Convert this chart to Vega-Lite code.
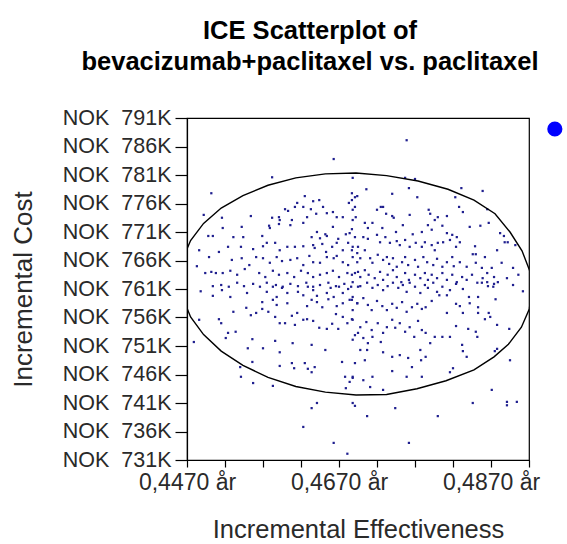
{
"$schema": "https://vega.github.io/schema/vega-lite/v6.json",
"width": 342,
"height": 342,
"autosize": {"type": "none"},
"padding": {"left": 187, "top": 118, "right": 38, "bottom": 84},
"background": "white",
"config": {"view": {"stroke": "#000", "strokeWidth": 1.2}, "font": "Liberation Sans"},
"title": {"text": ["ICE Scatterplot of", "bevacizumab+paclitaxel vs. paclitaxel"], "font": "Liberation Sans", "fontSize": 25.5, "fontWeight": "bold", "color": "#000", "anchor": "middle", "frame": "group", "dx": -48, "offset": 32, "lineHeight": 31},
"datasets": {
"pts": [
{"e":0.4663,"c":783800},{"e":0.4582,"c":780600},{"e":0.4688,"c":780500},{"e":0.4502,"c":777800},{"e":0.4687,"c":777800},{"e":0.4691,"c":777100},{"e":0.4615,"c":776100},{"e":0.4625,"c":777300},{"e":0.4636,"c":776400},{"e":0.4644,"c":776600},
{"e":0.4492,"c":774000},{"e":0.4516,"c":773500},{"e":0.4554,"c":773800},{"e":0.4582,"c":773500},{"e":0.4591,"c":773600},{"e":0.4599,"c":775000},{"e":0.4603,"c":774700},{"e":0.4612,"c":775400},{"e":0.4623,"c":775400},{"e":0.4633,"c":775000},
{"e":0.4640,"c":774200},{"e":0.4649,"c":775400},{"e":0.4654,"c":774300},{"e":0.4662,"c":774500},{"e":0.4667,"c":773600},{"e":0.4675,"c":773600},{"e":0.4683,"c":776100},{"e":0.4688,"c":774900},{"e":0.4692,"c":773600},
{"e":0.4498,"c":770300},{"e":0.4504,"c":770300},{"e":0.4517,"c":771700},{"e":0.4542,"c":771900},{"e":0.4531,"c":770100},{"e":0.4544,"c":770100},{"e":0.4569,"c":770300},{"e":0.4578,"c":772100},{"e":0.4579,"c":771700},{"e":0.4591,"c":772400},
{"e":0.4592,"c":773100},{"e":0.4608,"c":773100},{"e":0.4606,"c":772200},{"e":0.4623,"c":772600},{"e":0.4628,"c":773600},{"e":0.4634,"c":770100},{"e":0.4641,"c":771000},{"e":0.4645,"c":769900},{"e":0.4652,"c":770600},{"e":0.4654,"c":770300},
{"e":0.4662,"c":771900},{"e":0.4669,"c":769800},{"e":0.4679,"c":770600},{"e":0.4684,"c":770800},{"e":0.4687,"c":771500},{"e":0.4691,"c":770100},
{"e":0.4486,"c":767800},{"e":0.4499,"c":766600},{"e":0.4512,"c":767500},{"e":0.4524,"c":768400},{"e":0.4541,"c":768400},{"e":0.4557,"c":768000},{"e":0.4570,"c":768500},{"e":0.4575,"c":769100},{"e":0.4586,"c":769100},{"e":0.4592,"c":767800},
{"e":0.4602,"c":768400},{"e":0.4612,"c":768400},{"e":0.4623,"c":768500},{"e":0.4636,"c":768700},{"e":0.4638,"c":768200},{"e":0.4648,"c":768900},{"e":0.4653,"c":767500},{"e":0.4661,"c":768400},{"e":0.4667,"c":769100},{"e":0.4675,"c":767800},
{"e":0.4682,"c":769100},{"e":0.4688,"c":768400},{"e":0.4695,"c":768400},
{"e":0.4529,"c":766100},{"e":0.4542,"c":766400},{"e":0.4552,"c":765200},{"e":0.4561,"c":766600},{"e":0.4570,"c":766400},{"e":0.4579,"c":765600},{"e":0.4588,"c":766600},{"e":0.4595,"c":765900},{"e":0.4606,"c":766100},{"e":0.4615,"c":766400},
{"e":0.4623,"c":765200},{"e":0.4631,"c":766800},{"e":0.4636,"c":765700},{"e":0.4645,"c":765600},{"e":0.4654,"c":766600},{"e":0.4663,"c":766400},{"e":0.4667,"c":766800},{"e":0.4675,"c":765700},{"e":0.4682,"c":765200},{"e":0.4688,"c":766600},
{"e":0.4694,"c":765700},
{"e":0.4483,"c":765000},{"e":0.4494,"c":763800},{"e":0.4502,"c":764000},{"e":0.4508,"c":763800},{"e":0.4517,"c":763800},{"e":0.4527,"c":764200},{"e":0.4536,"c":763500},{"e":0.4546,"c":764500},{"e":0.4565,"c":763800},{"e":0.4573,"c":763100},
{"e":0.4583,"c":764200},{"e":0.4591,"c":763500},{"e":0.4602,"c":763800},{"e":0.4611,"c":763100},{"e":0.4620,"c":764200},{"e":0.4629,"c":763800},{"e":0.4636,"c":763100},{"e":0.4645,"c":763500},{"e":0.4654,"c":763800},{"e":0.4662,"c":764200},
{"e":0.4670,"c":763100},{"e":0.4681,"c":763800},{"e":0.4687,"c":763500},{"e":0.4695,"c":764000},
{"e":0.4504,"c":761500},{"e":0.4515,"c":761700},{"e":0.4525,"c":761400},{"e":0.4536,"c":762100},{"e":0.4545,"c":761500},{"e":0.4557,"c":761900},{"e":0.4566,"c":761400},{"e":0.4575,"c":762100},{"e":0.4587,"c":761700},{"e":0.4596,"c":761400},
{"e":0.4606,"c":761900},{"e":0.4616,"c":761500},{"e":0.4627,"c":762100},{"e":0.4636,"c":761400},{"e":0.4645,"c":761700},{"e":0.4656,"c":762100},{"e":0.4666,"c":761500},{"e":0.4677,"c":761900},{"e":0.4686,"c":761400},
{"e":0.4759,"c":787100},{"e":0.4706,"c":778500},{"e":0.4740,"c":777700},{"e":0.4757,"c":780500},{"e":0.4762,"c":778700},{"e":0.4770,"c":780300},{"e":0.4773,"c":777100},{"e":0.4831,"c":778700},{"e":0.4859,"c":778200},{"e":0.4823,"c":777100},
{"e":0.4828,"c":775400},{"e":0.4833,"c":774500},{"e":0.4865,"c":775000},{"e":0.4694,"c":777300},{"e":0.4687,"c":776600},{"e":0.4691,"c":775400},{"e":0.4720,"c":774900},{"e":0.4725,"c":775400},{"e":0.4728,"c":775400},{"e":0.4732,"c":774200},
{"e":0.4740,"c":773800},{"e":0.4742,"c":773500},{"e":0.4763,"c":774000},{"e":0.4788,"c":774900},{"e":0.4790,"c":774200},{"e":0.4796,"c":773100},{"e":0.4800,"c":773600},{"e":0.4812,"c":773800},
{"e":0.4688,"c":773100},{"e":0.4704,"c":772600},{"e":0.4708,"c":771700},{"e":0.4714,"c":772600},{"e":0.4727,"c":771700},{"e":0.4745,"c":771000},{"e":0.4754,"c":772200},{"e":0.4767,"c":770600},{"e":0.4779,"c":771000},{"e":0.4787,"c":772200},
{"e":0.4792,"c":771400},{"e":0.4806,"c":772100},{"e":0.4812,"c":770800},{"e":0.4819,"c":770500},{"e":0.4825,"c":770100},{"e":0.4842,"c":771900},{"e":0.4856,"c":772100},{"e":0.4867,"c":772600},{"e":0.4882,"c":770800},{"e":0.4887,"c":770300},
{"e":0.4892,"c":769200},{"e":0.4902,"c":768700},
{"e":0.4702,"c":770100},{"e":0.4708,"c":769800},{"e":0.4720,"c":770500},{"e":0.4724,"c":769200},{"e":0.4731,"c":770100},{"e":0.4737,"c":769100},{"e":0.4746,"c":769400},{"e":0.4750,"c":768700},{"e":0.4757,"c":769600},{"e":0.4763,"c":768400},
{"e":0.4771,"c":769100},{"e":0.4779,"c":768400},{"e":0.4783,"c":769200},{"e":0.4792,"c":768700},{"e":0.4796,"c":767800},{"e":0.4800,"c":769100},{"e":0.4807,"c":769200},{"e":0.4816,"c":769600},{"e":0.4824,"c":768400},{"e":0.4829,"c":769200},
{"e":0.4849,"c":768500},{"e":0.4850,"c":767100},{"e":0.4862,"c":766600},{"e":0.4878,"c":767800},{"e":0.4888,"c":769200},
{"e":0.4687,"c":767800},{"e":0.4694,"c":767300},{"e":0.4698,"c":766400},{"e":0.4704,"c":767800},{"e":0.4711,"c":766400},{"e":0.4714,"c":765600},{"e":0.4721,"c":767000},{"e":0.4728,"c":766100},{"e":0.4733,"c":766600},{"e":0.4736,"c":765400},
{"e":0.4741,"c":766400},{"e":0.4746,"c":764900},{"e":0.4753,"c":765700},{"e":0.4757,"c":766600},{"e":0.4761,"c":765200},{"e":0.4770,"c":766100},{"e":0.4774,"c":764900},{"e":0.4781,"c":766600},{"e":0.4786,"c":765700},{"e":0.4794,"c":765200},
{"e":0.4799,"c":766300},{"e":0.4806,"c":764900},{"e":0.4812,"c":765700},{"e":0.4819,"c":766600},{"e":0.4821,"c":765000},{"e":0.4829,"c":765700},{"e":0.4838,"c":764900},{"e":0.4846,"c":767100},{"e":0.4850,"c":765600},{"e":0.4858,"c":764700},
{"e":0.4865,"c":763800},{"e":0.4871,"c":764700},{"e":0.4874,"c":763100},{"e":0.4884,"c":765600},{"e":0.4899,"c":764700},{"e":0.4906,"c":763500},
{"e":0.4691,"c":763800},{"e":0.4698,"c":763100},{"e":0.4704,"c":764300},{"e":0.4709,"c":763500},{"e":0.4717,"c":762900},{"e":0.4724,"c":764000},{"e":0.4728,"c":762600},{"e":0.4734,"c":763500},{"e":0.4741,"c":764300},{"e":0.4746,"c":763100},
{"e":0.4752,"c":762200},{"e":0.4757,"c":763800},{"e":0.4762,"c":762600},{"e":0.4763,"c":762100},{"e":0.4770,"c":763500},{"e":0.4777,"c":762900},{"e":0.4783,"c":763800},{"e":0.4787,"c":762600},{"e":0.4792,"c":763500},{"e":0.4799,"c":762900},
{"e":0.4806,"c":763800},{"e":0.4812,"c":762600},{"e":0.4819,"c":763500},{"e":0.4825,"c":762200},{"e":0.4832,"c":763100},{"e":0.4838,"c":762600},{"e":0.4845,"c":763500},{"e":0.4852,"c":762100},{"e":0.4859,"c":762900},{"e":0.4865,"c":762200},
{"e":0.4873,"c":761400},{"e":0.4879,"c":762200},{"e":0.4891,"c":762900},{"e":0.4899,"c":761700},
{"e":0.4516,"c":760800},{"e":0.4549,"c":760300},{"e":0.4575,"c":760500},{"e":0.4583,"c":761400},{"e":0.4588,"c":759600},{"e":0.4595,"c":761200},{"e":0.4602,"c":760300},{"e":0.4616,"c":760500},{"e":0.4623,"c":759900},{"e":0.4629,"c":761400},
{"e":0.4636,"c":760800},{"e":0.4641,"c":759800},{"e":0.4654,"c":760300},{"e":0.4659,"c":761200},{"e":0.4663,"c":759600},{"e":0.4670,"c":761400},{"e":0.4675,"c":760300},{"e":0.4682,"c":761000},{"e":0.4688,"c":759600},{"e":0.4695,"c":761400},
{"e":0.4488,"c":760600},{"e":0.4504,"c":759800},{"e":0.4527,"c":759600},
{"e":0.4569,"c":758700},{"e":0.4583,"c":759100},{"e":0.4588,"c":758200},{"e":0.4602,"c":758500},{"e":0.4615,"c":756800},{"e":0.4628,"c":758000},{"e":0.4634,"c":759100},{"e":0.4641,"c":758700},{"e":0.4648,"c":757800},{"e":0.4656,"c":759200},
{"e":0.4666,"c":756600},{"e":0.4667,"c":758000},{"e":0.4675,"c":758500},{"e":0.4684,"c":759100},{"e":0.4688,"c":757300},{"e":0.4694,"c":758500},
{"e":0.4531,"c":757000},{"e":0.4548,"c":757700},{"e":0.4554,"c":756400},{"e":0.4561,"c":756800},{"e":0.4569,"c":757500},{"e":0.4577,"c":757000},{"e":0.4586,"c":756100},{"e":0.4592,"c":755000},{"e":0.4599,"c":755000},{"e":0.4608,"c":756300},
{"e":0.4612,"c":754700},{"e":0.4623,"c":755600},{"e":0.4628,"c":755700},{"e":0.4636,"c":755400},{"e":0.4644,"c":754200},{"e":0.4654,"c":754000},{"e":0.4661,"c":754900},{"e":0.4669,"c":754000},{"e":0.4675,"c":756100},{"e":0.4681,"c":755000},
{"e":0.4687,"c":755700},{"e":0.4691,"c":752900},
{"e":0.4486,"c":755600},{"e":0.4512,"c":755700},{"e":0.4515,"c":755000},{"e":0.4524,"c":753300},{"e":0.4534,"c":753500},{"e":0.4521,"c":752400},{"e":0.4479,"c":751700},{"e":0.4556,"c":752200},{"e":0.4586,"c":751900},{"e":0.4609,"c":751500},
{"e":0.4634,"c":751200},{"e":0.4652,"c":750300},{"e":0.4550,"c":750600},{"e":0.4570,"c":750600},{"e":0.4592,"c":749900},{"e":0.4592,"c":747500},{"e":0.4608,"c":748000},{"e":0.4611,"c":747100},{"e":0.4625,"c":748000},{"e":0.4629,"c":747000},
{"e":0.4634,"c":746400},{"e":0.4638,"c":747300},{"e":0.4674,"c":748200},{"e":0.4691,"c":748000},{"e":0.4556,"c":748200},{"e":0.4540,"c":747300},{"e":0.4541,"c":745600},{"e":0.4557,"c":744500},{"e":0.4583,"c":744000},{"e":0.4678,"c":745600},
{"e":0.4684,"c":744700},{"e":0.4679,"c":743600},{"e":0.4688,"c":745600},{"e":0.4641,"c":741000},{"e":0.4634,"c":740100},{"e":0.4623,"c":736800},{"e":0.4663,"c":734000},{"e":0.4681,"c":732100},
{"e":0.4688,"c":762200},{"e":0.4698,"c":761500},{"e":0.4707,"c":762100},{"e":0.4714,"c":761200},{"e":0.4721,"c":761700},{"e":0.4728,"c":760800},{"e":0.4734,"c":761500},{"e":0.4741,"c":762100},{"e":0.4748,"c":761200},{"e":0.4754,"c":761700},
{"e":0.4759,"c":760500},{"e":0.4770,"c":761400},{"e":0.4777,"c":760300},{"e":0.4783,"c":761700},{"e":0.4787,"c":761200},{"e":0.4794,"c":762100},{"e":0.4799,"c":760500},{"e":0.4806,"c":761400},{"e":0.4812,"c":759900},{"e":0.4816,"c":760800},
{"e":0.4824,"c":761900},{"e":0.4833,"c":761000},{"e":0.4841,"c":759600},{"e":0.4853,"c":759600},{"e":0.4858,"c":762100},{"e":0.4866,"c":761500},{"e":0.4874,"c":761900},{"e":0.4876,"c":759200},{"e":0.4912,"c":760600},
{"e":0.4687,"c":759100},{"e":0.4694,"c":758500},{"e":0.4702,"c":759400},{"e":0.4708,"c":758200},{"e":0.4713,"c":757300},{"e":0.4720,"c":758900},{"e":0.4727,"c":758000},{"e":0.4733,"c":757300},{"e":0.4740,"c":758400},{"e":0.4746,"c":757700},
{"e":0.4753,"c":758700},{"e":0.4759,"c":757000},{"e":0.4766,"c":757800},{"e":0.4773,"c":758400},{"e":0.4779,"c":757500},{"e":0.4784,"c":757800},{"e":0.4792,"c":758900},{"e":0.4802,"c":759900},{"e":0.4812,"c":756800},{"e":0.4824,"c":758400},
{"e":0.4829,"c":758000},{"e":0.4833,"c":756800},{"e":0.4842,"c":758500},{"e":0.4853,"c":756800},{"e":0.4853,"c":757800},{"e":0.4862,"c":755700},{"e":0.4867,"c":756800},{"e":0.4869,"c":756100},{"e":0.4878,"c":754700},{"e":0.4894,"c":754000},
{"e":0.4688,"c":755600},{"e":0.4698,"c":754300},{"e":0.4706,"c":755200},{"e":0.4713,"c":753800},{"e":0.4721,"c":755000},{"e":0.4728,"c":753300},{"e":0.4733,"c":754300},{"e":0.4740,"c":755600},{"e":0.4744,"c":754200},{"e":0.4750,"c":755000},
{"e":0.4757,"c":753500},{"e":0.4763,"c":754300},{"e":0.4769,"c":752600},{"e":0.4774,"c":755400},{"e":0.4779,"c":753800},{"e":0.4784,"c":753300},{"e":0.4790,"c":751500},{"e":0.4796,"c":752600},{"e":0.4806,"c":752600},{"e":0.4816,"c":752600},
{"e":0.4824,"c":754500},{"e":0.4840,"c":754000},{"e":0.4850,"c":753500},{"e":0.4852,"c":752600},{"e":0.4832,"c":751200},{"e":0.4833,"c":750100},{"e":0.4838,"c":749100},
{"e":0.4688,"c":752100},{"e":0.4695,"c":753300},{"e":0.4702,"c":752400},{"e":0.4708,"c":751500},{"e":0.4714,"c":752600},{"e":0.4725,"c":751700},{"e":0.4728,"c":749900},{"e":0.4740,"c":749100},{"e":0.4750,"c":749400},{"e":0.4761,"c":748900},
{"e":0.4766,"c":747300},{"e":0.4777,"c":750300},{"e":0.4778,"c":748500},{"e":0.4784,"c":749100},{"e":0.4698,"c":750300},{"e":0.4707,"c":750300},{"e":0.4704,"c":748500},{"e":0.4714,"c":745600},{"e":0.4702,"c":745000},{"e":0.4688,"c":745400},
{"e":0.4711,"c":743800},{"e":0.4728,"c":743300},{"e":0.4740,"c":746600},{"e":0.4759,"c":745600},{"e":0.4779,"c":745600},{"e":0.4816,"c":746400},{"e":0.4820,"c":747100},{"e":0.4875,"c":750100},{"e":0.4878,"c":750500},{"e":0.4895,"c":748500},
{"e":0.4871,"c":743300},{"e":0.4846,"c":741000},{"e":0.4891,"c":741200},{"e":0.4891,"c":740600},{"e":0.4904,"c":741200},{"e":0.4688,"c":741000},{"e":0.4691,"c":740500},{"e":0.4744,"c":740100},{"e":0.4707,"c":738700},{"e":0.4800,"c":738700},
{"e":0.4762,"c":734000}
],
"ell": [
{"i":0,"e":0.49240,"c":760900},{"i":1,"e":0.49204,"c":757500},{"i":2,"e":0.49100,"c":754300},{"i":3,"e":0.48929,"c":751300},{"i":4,"e":0.48740,"c":749100},{"i":5,"e":0.48476,"c":746800},{"i":6,"e":0.48108,"c":744900},{"i":7,"e":0.47726,"c":743500},{"i":8,"e":0.47326,"c":742500},{"i":9,"e":0.46924,"c":742400},
{"i":10,"e":0.46521,"c":742900},{"i":11,"e":0.46132,"c":743900},{"i":12,"e":0.45766,"c":745500},{"i":13,"e":0.45436,"c":747600},{"i":14,"e":0.45150,"c":750100},{"i":15,"e":0.44918,"c":753000},{"i":16,"e":0.44747,"c":756100},{"i":17,"e":0.44643,"c":759500},{"i":18,"e":0.44608,"c":762900},
{"i":19,"e":0.44643,"c":766200},{"i":20,"e":0.44747,"c":769500},{"i":21,"e":0.44918,"c":772500},{"i":22,"e":0.45150,"c":775200},{"i":23,"e":0.45436,"c":777400},{"i":24,"e":0.45766,"c":779200},{"i":25,"e":0.46132,"c":780500},{"i":26,"e":0.46521,"c":781200},{"i":27,"e":0.46924,"c":781350},
{"i":28,"e":0.47326,"c":780900},{"i":29,"e":0.47740,"c":779950},{"i":30,"e":0.48134,"c":778500},{"i":31,"e":0.48476,"c":776600},{"i":32,"e":0.48753,"c":774200},{"i":33,"e":0.48950,"c":771000},{"i":34,"e":0.49108,"c":767700},{"i":35,"e":0.49207,"c":764300},{"i":36,"e":0.49240,"c":760900}
],
"leg": [{"e":0.4954,"c":789070}]
},
"encoding": {
"x": {"field": "e", "type": "quantitative", "title": "Incremental Effectiveness",
"scale": {"domain": [0.447, 0.492], "nice": false, "zero": false},
"axis": {"values": [0.447,0.452,0.457,0.462,0.467,0.472,0.477,0.482,0.487,0.492],
"labelExpr": "indexof(['0.447','0.467','0.487'], format(datum.value,'.3f')) >= 0 ? replace(format(datum.value,'.4f'),'.',',') + ' år' : ''",
"grid": false, "domainColor": "#000", "domainWidth": 1.2, "tickColor": "#000", "tickWidth": 1.2, "tickSize": 7,
"labelFont": "Liberation Sans", "labelFontSize": 23, "labelColor": "#2a2a2a", "labelPadding": 4, "labelFlush": false, "labelOverlap": false,
"titleFont": "Liberation Sans", "titleFontSize": 25.5, "titleFontWeight": "normal", "titleColor": "#2a2a2a", "titleX": 171, "titleY": 77, "titleBaseline": "alphabetic", "titleAlign": "center"}},
"y": {"field": "c", "type": "quantitative", "title": "Incremental Cost",
"scale": {"domain": [731000, 791000], "nice": false, "zero": false},
"axis": {"values": [731000,736000,741000,746000,751000,756000,761000,766000,771000,776000,781000,786000,791000],
"labelExpr": "'NOK\u00a0 ' + format(datum.value/1000,'d') + 'K'",
"grid": false, "domainColor": "#000", "domainWidth": 1.2, "tickColor": "#000", "tickWidth": 1.2, "tickSize": 12,
"labelFont": "Liberation Sans", "labelFontSize": 21.5, "labelColor": "#2a2a2a", "labelPadding": 4, "labelOverlap": false, "labelFlush": false,
"titleFont": "Liberation Sans", "titleFontSize": 26, "titleFontWeight": "normal", "titleColor": "#2a2a2a", "titleX": -156, "titleY": 171, "titleAngle": -90, "titleBaseline": "alphabetic", "titleAlign": "center"}}
},
"layer": [
{"data": {"name": "pts"}, "mark": {"type": "square", "size": 5, "color": "#1f1f8f", "opacity": 1, "filled": true}},
{"data": {"name": "ell"}, "mark": {"type": "line", "color": "#000", "strokeWidth": 1.4, "clip": true}, "encoding": {"order": {"field": "i", "type": "quantitative"}}},
{"data": {"name": "leg"}, "mark": {"type": "circle", "size": 230, "color": "#0000ff", "opacity": 1, "clip": false}}
]
}
